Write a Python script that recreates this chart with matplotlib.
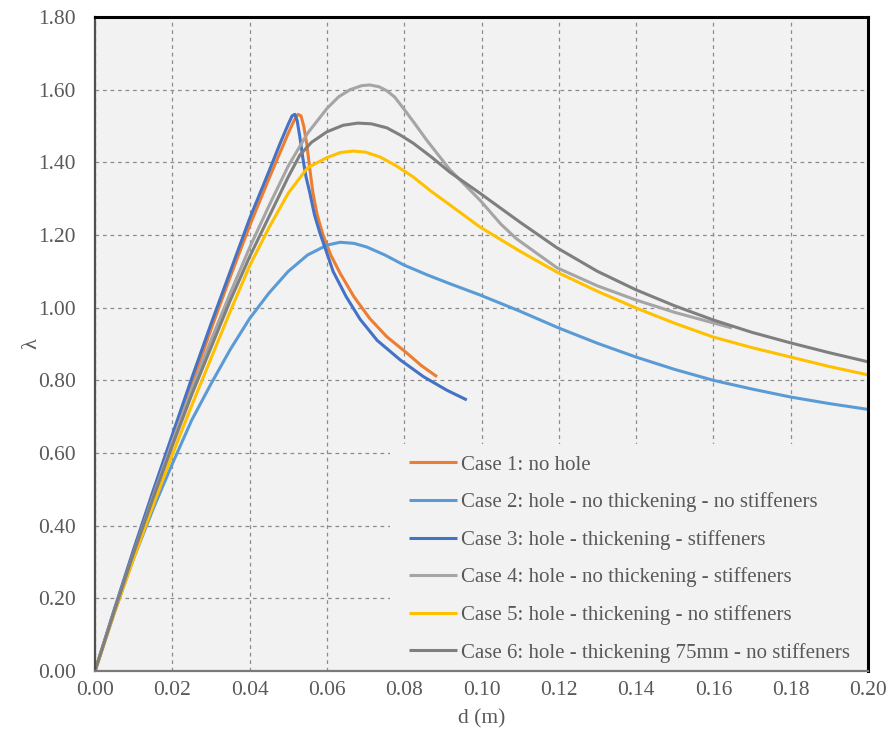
import matplotlib
matplotlib.use("Agg")
import matplotlib.pyplot as plt
from matplotlib.patches import Rectangle

# d (m) and lambda values, one pair of lists per case
case1_d = [0.0, 0.005, 0.010, 0.015, 0.020, 0.025, 0.030, 0.035, 0.040, 0.045, 0.048,
           0.050, 0.0515, 0.0525, 0.0533, 0.0540, 0.0548, 0.0556, 0.0564, 0.0575, 0.059,
           0.061, 0.0634, 0.067, 0.0711, 0.0755, 0.0807, 0.0845, 0.0885]
case1_l = [0.0, 0.165, 0.325, 0.485, 0.64, 0.79, 0.94, 1.085, 1.225, 1.355, 1.43,
           1.48, 1.515, 1.532, 1.528, 1.50, 1.45, 1.38, 1.315, 1.255, 1.20,
           1.145, 1.095, 1.03, 0.97, 0.92, 0.875, 0.84, 0.81]

case2_d = [0.0, 0.005, 0.010, 0.015, 0.020, 0.025, 0.030, 0.035, 0.040, 0.045, 0.050,
           0.055, 0.060, 0.0634, 0.067, 0.0703, 0.075, 0.080, 0.086, 0.0918, 0.0996,
           0.110, 0.120, 0.130, 0.140, 0.150, 0.160, 0.170, 0.180, 0.190, 0.200]
case2_l = [0.0, 0.16, 0.31, 0.445, 0.57, 0.69, 0.79, 0.885, 0.97, 1.04, 1.10,
           1.145, 1.172, 1.18, 1.177, 1.167, 1.145, 1.117, 1.09, 1.066, 1.035,
           0.99, 0.944, 0.902, 0.864, 0.83, 0.80, 0.776, 0.754, 0.736, 0.72]

case3_d = [0.0, 0.005, 0.010, 0.015, 0.020, 0.025, 0.030, 0.035, 0.040, 0.045, 0.048,
           0.0500, 0.0510, 0.0517, 0.0523, 0.0530, 0.0538, 0.0546, 0.0556, 0.0568, 0.0582,
           0.060, 0.0616, 0.065, 0.0686, 0.073, 0.079, 0.085, 0.091, 0.0962]
case3_l = [0.0, 0.17, 0.335, 0.495, 0.65, 0.805, 0.955, 1.10, 1.245, 1.375, 1.455,
           1.505, 1.528, 1.532, 1.515, 1.47, 1.41, 1.36, 1.315, 1.255, 1.205,
           1.15, 1.10, 1.03, 0.968, 0.91, 0.856, 0.81, 0.773, 0.746]

case4_d = [0.0, 0.005, 0.010, 0.015, 0.020, 0.025, 0.030, 0.035, 0.040, 0.045, 0.050,
           0.055, 0.060, 0.063, 0.066, 0.069, 0.0711, 0.0735, 0.0755, 0.0775, 0.0797,
           0.0825, 0.0859, 0.0918, 0.0996, 0.105, 0.109, 0.1195, 0.130, 0.140, 0.150,
           0.160, 0.1648]
case4_l = [0.0, 0.165, 0.325, 0.48, 0.63, 0.775, 0.91, 1.04, 1.165, 1.28, 1.39,
           1.48, 1.548, 1.58, 1.60, 1.611, 1.613, 1.608, 1.597, 1.58, 1.55,
           1.51, 1.46, 1.38, 1.296, 1.23, 1.19, 1.11, 1.06, 1.021, 0.987,
           0.958, 0.944]

case5_d = [0.0, 0.005, 0.010, 0.015, 0.020, 0.025, 0.030, 0.035, 0.040, 0.045, 0.050,
           0.055, 0.060, 0.0635, 0.0668, 0.070, 0.0737, 0.078, 0.0823, 0.087, 0.0918,
           0.0996, 0.110, 0.1195, 0.130, 0.140, 0.150, 0.160, 0.170, 0.180, 0.190, 0.200]
case5_l = [0.0, 0.16, 0.31, 0.455, 0.595, 0.73, 0.86, 0.99, 1.115, 1.22, 1.315,
           1.385, 1.413, 1.427, 1.431, 1.428, 1.415, 1.39, 1.36, 1.32, 1.283,
           1.222, 1.155, 1.098, 1.045, 0.999, 0.957, 0.919, 0.89, 0.864, 0.838, 0.815]

case6_d = [0.0, 0.005, 0.010, 0.015, 0.020, 0.025, 0.030, 0.035, 0.040, 0.045, 0.050,
           0.053, 0.056, 0.060, 0.0642, 0.068, 0.0715, 0.0755, 0.079, 0.0823, 0.087,
           0.0918, 0.0996, 0.110, 0.1195, 0.130, 0.140, 0.150, 0.160, 0.170, 0.180,
           0.190, 0.200]
case6_l = [0.0, 0.165, 0.325, 0.475, 0.62, 0.76, 0.89, 1.02, 1.14, 1.25, 1.36,
           1.42, 1.455, 1.484, 1.502, 1.508, 1.506, 1.495, 1.475, 1.453, 1.415,
           1.373, 1.315, 1.235, 1.165, 1.10, 1.049, 1.005, 0.966, 0.932, 0.903,
           0.876, 0.851]

labels = [
    "Case 1: no hole",
    "Case 2: hole - no thickening - no stiffeners",
    "Case 3: hole - thickening - stiffeners",
    "Case 4: hole - no thickening - stiffeners",
    "Case 5: hole - thickening - no stiffeners",
    "Case 6: hole - thickening 75mm - no stiffeners",
]
colors = ["#ed7d31", "#5b9bd5", "#4472c4", "#a5a5a5", "#ffc000", "#7f7f7f"]

x_ticks = [0.0, 0.02, 0.04, 0.06, 0.08, 0.10, 0.12, 0.14, 0.16, 0.18, 0.20]
y_ticks = [0.0, 0.2, 0.4, 0.6, 0.8, 1.0, 1.2, 1.4, 1.6, 1.8]

series = [
    (case1_d, case1_l),
    (case2_d, case2_l),
    (case3_d, case3_l),
    (case4_d, case4_l),
    (case5_d, case5_l),
    (case6_d, case6_l),
]

plt.rcParams["font.family"] = ["Liberation Serif", "DejaVu Serif"]
text_grey = "#595959"
panel = "#f2f2f2"

fig = plt.figure(figsize=(8.88, 7.38), dpi=100)
ax = fig.add_axes([95 / 888, 67 / 738, 773 / 888, 654 / 738])
ax.set_facecolor(panel)

for (d, lam), label, color in zip(series, labels, colors):
    ax.plot(d, lam, color=color, linewidth=2.2, label=label,
            solid_joinstyle="round", solid_capstyle="butt")

ax.set_xlim(0, 0.2)
ax.set_ylim(0, 1.8)
ax.set_xticks(x_ticks)
ax.set_yticks(y_ticks)
ax.set_xticklabels([f"{v:.2f}" for v in x_ticks])
ax.set_yticklabels([f"{v:.2f}" for v in y_ticks])
ax.tick_params(length=0, labelsize=15.5, colors=text_grey)
ax.tick_params(axis="x", pad=7)
ax.tick_params(axis="y", pad=14)

# Grid
ax.grid(True, linestyle=(0, (3, 3)), color="#8c8c8c", linewidth=0.9)
ax.set_axisbelow(True)

# Spines: black top/right, grey left/bottom, kept above the legend
ax.spines["top"].set_color("black")
ax.spines["top"].set_linewidth(2.2)
ax.spines["right"].set_color("black")
ax.spines["right"].set_linewidth(2.2)
ax.spines["left"].set_color("#505050")
ax.spines["left"].set_linewidth(1.6)
ax.spines["bottom"].set_color("#7a7a7a")
ax.spines["bottom"].set_linewidth(1.6)
for spine in ax.spines.values():
    spine.set_zorder(6)

ax.set_xlabel("d (m)", fontsize=15.5, color=text_grey, labelpad=7)
ax.set_ylabel("λ", fontsize=16, color=text_grey, labelpad=-3)

# Legend panel in the lower-right corner, hiding the grid behind it
ax.add_patch(Rectangle((295 / 773, 0), 478 / 773, 227 / 654, transform=ax.transAxes,
                       facecolor=panel, edgecolor="none", zorder=4))
leg = ax.legend(
    loc="lower right",
    bbox_to_anchor=(1.0 - 10 / 773, 0.0),
    borderaxespad=0,
    fontsize=15,
    handlelength=2.3,
    handletextpad=0.2,
    labelspacing=0.85,
    borderpad=0.4,
    frameon=False,
)
leg.set_zorder(5)
for text in leg.get_texts():
    text.set_color(text_grey)

fig.savefig("out.png", dpi=100, facecolor="white")
